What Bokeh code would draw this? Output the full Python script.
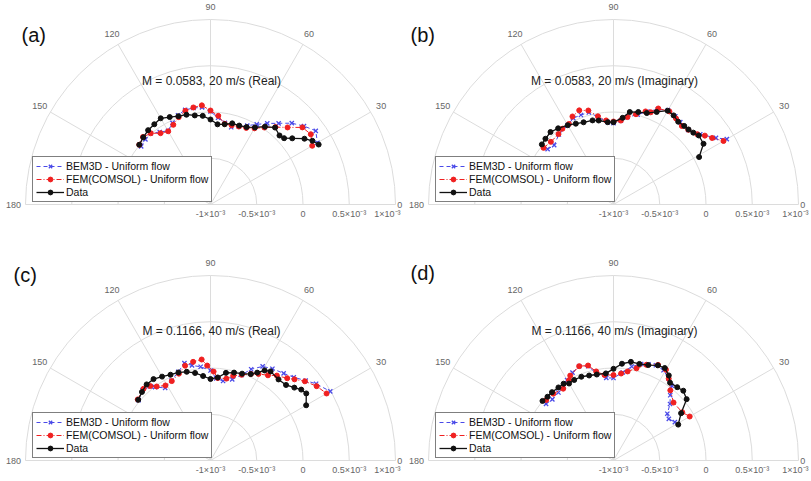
import numpy as np
from bokeh.plotting import figure
from bokeh.layouts import gridplot
from bokeh.models import Range1d, Legend, LegendItem, Label
from bokeh.core.properties import value
from bokeh.embed import file_html
from bokeh.resources import INLINE

# ---------------- axes definition ----------------
R_MIN, R_MAX = -1e-3, 1e-3
R_TICKS = [-1e-3, -0.5e-3, 0.0, 0.5e-3, 1e-3]
R_TICK_LABELS = ["-1×10⁻³", "-0.5×10⁻³", "0", "0.5×10⁻³", "1×10⁻³"]
THETA_TICKS = [0, 30, 60, 90, 120, 150, 180]

PANEL_LETTERS = ["(a)", "(b)", "(c)", "(d)"]
TITLES = ["M = 0.0583, 20 m/s (Real)", "M = 0.0583, 20 m/s (Imaginary)",
          "M = 0.1166, 40 m/s (Real)", "M = 0.1166, 40 m/s (Imaginary)"]
SERIES_NAMES = ["BEM3D - Uniform flow", "FEM(COMSOL) - Uniform flow", "Data"]

# ---------------- data (angle in degrees, value in units of 1e-3) ----------------
# (a) real, 20 m/s
a_bem_ang = [140, 135, 130, 125, 120, 115, 110, 105, 100, 95, 90, 85, 80, 75, 70, 65, 60, 55, 50, 45, 40, 35, 30]
a_bem_val = [-0.022, -0.005, 0.005, -0.043, -0.081, -0.027, 0.027, 0.059, 0.059, 0.054, 0.005, -0.059, -0.103,
             -0.135, -0.103, -0.059, 0.000, 0.070, 0.146, 0.243, 0.319, 0.389, 0.335]
a_fem_ang = [140, 135, 130, 125, 120, 115, 110, 105, 100, 95, 90, 85, 80, 75, 70, 65, 60, 55, 50, 45, 40, 35, 30]
a_fem_val = [0.005, 0.032, 0.005, -0.059, -0.086, -0.049, 0.005, 0.049, 0.065, 0.076, 0.016, -0.038, -0.114,
             -0.114, -0.103, -0.086, -0.049, 0.016, 0.092, 0.178, 0.297, 0.324, 0.270]
a_dat_ang = [140, 135, 130, 125, 120, 115, 110, 105, 100, 95, 90, 85, 80, 75, 70, 65, 60, 55, 50, 45, 42, 39, 35, 32, 29]
a_dat_val = [0.005, 0.027, 0.049, 0.059, 0.076, 0.043, 0.016, 0.005, -0.022, -0.038, -0.081, -0.130, -0.119,
             -0.092, -0.092, -0.076, -0.038, 0.027, 0.086, 0.055, 0.071, 0.137, 0.240, 0.299, 0.337]

# (b) imaginary, 20 m/s
b_bem_ang = [140, 135, 128, 120, 115, 110, 105, 100, 94, 90, 85, 81, 75, 70, 65, 60, 55, 51, 45, 39, 33, 30]
b_bem_val = [-0.070, -0.093, -0.040, -0.010, 0.030, 0.030, 0.030, -0.040, -0.108, -0.121, -0.090, -0.044,
             0.005, 0.070, 0.135, 0.178, 0.165, 0.147, 0.142, 0.207, 0.321, 0.414]
b_fem_ang = [141, 135, 128, 124, 119, 115, 110, 105, 100, 95, 90, 85, 81, 76, 71, 68, 65, 59, 54, 49, 45, 40, 37, 34, 30]
b_fem_val = [-0.027, -0.042, -0.034, -0.012, -0.005, 0.050, 0.083, 0.052, -0.032, -0.088, -0.103, -0.089,
             -0.043, 0.006, 0.064, 0.075, 0.145, 0.174, 0.150, 0.126, 0.143, 0.182, 0.237, 0.286, 0.373]
b_dat_ang = [140, 136, 131, 126, 120, 115, 110, 104, 100, 94, 90, 84, 80, 75, 70, 65, 60, 56, 52, 48, 45, 42, 39, 34, 29]
b_dat_val = [0.011, 0.023, 0.038, 0.018, -0.010, -0.036, -0.054, -0.063, -0.078, -0.108, -0.110, -0.058,
             0.015, 0.035, 0.052, 0.104, 0.171, 0.162, 0.136, 0.143, 0.147, 0.161, 0.186, 0.174, 0.058]

# (c) real, 40 m/s
c_bem_ang = [140, 134, 129, 127, 122, 116, 110, 105, 101, 96, 90, 86, 81, 75, 70, 66, 61, 56, 50, 45, 40, 36, 30]
c_bem_val = [0.015, 0.059, 0.031, -0.006, -0.075, -0.040, 0.019, 0.089, 0.047, 0.019, -0.027, -0.110, -0.130,
             -0.093, -0.014, 0.080, 0.163, 0.197, 0.230, 0.273, 0.343, 0.411, 0.495]
c_fem_ang = [140, 133, 129, 126, 121, 116, 110, 105, 100, 95, 92, 88, 85, 79, 75, 70, 65, 61, 56, 52, 47, 44, 40, 35, 30]
c_fem_val = [0.027, 0.061, 0.036, -0.011, -0.054, -0.045, -0.001, 0.061, 0.083, 0.096, 0.027, -0.038, -0.105,
             -0.098, -0.052, -0.014, 0.033, 0.070, 0.111, 0.165, 0.216, 0.263, 0.332, 0.401, 0.449]
c_dat_ang = [140, 135, 130, 125, 120, 115, 110, 105, 100, 95, 90, 85, 80, 75, 70, 65, 62, 59, 56, 50, 45, 41, 38, 35, 30]
c_dat_val = [0.020, 0.048, 0.074, 0.074, 0.047, 0.023, 0.013, -0.007, -0.039, -0.083, -0.119, -0.099, -0.038,
             -0.016, -0.001, 0.031, 0.076, 0.136, 0.162, 0.144, 0.155, 0.201, 0.245, 0.264, 0.194]

# (d) imaginary, 40 m/s
d_bem_ang = [140, 135, 129, 124, 120, 115, 110, 105, 101, 95, 90, 84, 79, 74, 70, 66, 61, 56, 52, 49, 45, 41, 37, 32]
d_bem_val = [-0.048, -0.065, -0.054, -0.035, 0.003, 0.049, 0.084, 0.055, -0.042, -0.104, -0.108, -0.043,
             0.035, 0.085, 0.105, 0.127, 0.115, 0.067, 0.025, -0.065, -0.136, -0.229, -0.251, -0.218]
d_fem_ang = [138, 132, 125, 119, 117, 110, 105, 101, 96, 90, 85, 81, 76, 71, 65, 60, 56, 51, 44, 35, 30]
d_fem_val = [-0.021, -0.028, -0.052, -0.008, 0.030, 0.085, 0.063, -0.019, -0.070, -0.076, -0.056, -0.025,
             0.027, 0.094, 0.140, 0.134, 0.067, -0.024, -0.098, -0.092, -0.049]
d_dat_ang = [140, 136, 132, 127, 123, 120, 116, 111, 106, 101, 95, 90, 85, 80, 75, 70, 65, 61, 57, 54, 49, 45, 40, 35, 29]
d_dat_val = [0.002, -0.008, -0.006, -0.011, -0.010, -0.039, -0.031, -0.030, -0.044, -0.053, -0.055, -0.009,
             0.050, 0.083, 0.081, 0.098, 0.135, 0.143, 0.097, 0.040, 0.050, 0.067, 0.032, -0.108, -0.200]

PANEL_DATA = [
    [(a_bem_ang, a_bem_val), (a_fem_ang, a_fem_val), (a_dat_ang, a_dat_val)],
    [(b_bem_ang, b_bem_val), (b_fem_ang, b_fem_val), (b_dat_ang, b_dat_val)],
    [(c_bem_ang, c_bem_val), (c_fem_ang, c_fem_val), (c_dat_ang, c_dat_val)],
    [(d_bem_ang, d_bem_val), (d_fem_ang, d_fem_val), (d_dat_ang, d_dat_val)],
]
VALUE_UNIT = 1e-3

# ---------------- layout / style ----------------
PX = 185.0  # pixels per unit of normalised radius
# width, height, centre x/y (px from top-left), letter x/y, title y, right padding for last radial label
LAYOUT = [
    dict(W=405, H=240, cx=210, cy=204, lx=21, ly=34, ty=80, rpad=5),
    dict(W=406, H=240, cx=208, cy=204, lx=5, ly=34, ty=80, rpad=3),
    dict(W=405, H=241, cx=210, cy=220, lx=13, ly=34, ty=90, rpad=5),
    dict(W=406, H=241, cx=208, cy=220, lx=5, ly=32, ty=90, rpad=3),
]
FONT = "Liberation Sans"
GRID_COLOR = "#dcdcdc"
LABEL_COLOR = "#666666"
STYLES = [
    dict(color="#4a4ae8", dash="4 3", marker="x", size=6, lw=1.0),
    dict(color="#f02020", dash="5 2 1 2", marker="circle", size=5, lw=1.0),
    dict(color="#111111", dash="solid", marker="circle", size=5, lw=1.3),
]


def rho(v):
    return (np.asarray(v, dtype=float) - R_MIN) / (R_MAX - R_MIN)


def txt(p, x, y, s, align="center", size="9px", color=LABEL_COLOR):
    p.text(x=[x], y=[y], text=[s], text_align=align, text_baseline="middle",
           text_font=value(FONT), text_font_size=size, text_color=color)


def make_panel(i):
    L = LAYOUT[i]
    W, H, cx, cy = L["W"], L["H"], L["cx"], L["cy"]
    p = figure(width=W, height=H,
               x_range=Range1d(-cx / PX, (W - cx) / PX),
               y_range=Range1d(-(H - cy) / PX, cy / PX),
               x_axis_type=None, y_axis_type=None, toolbar_location=None,
               output_backend="svg", min_border=0, outline_line_color=None)
    p.background_fill_color = "white"
    p.border_fill_color = "white"

    # grid circles
    rr = [rho(t) for t in R_TICKS if rho(t) > 0]
    p.arc(x=[0] * len(rr), y=[0] * len(rr), radius=rr, start_angle=0, end_angle=np.pi,
          line_color=GRID_COLOR, line_width=1)
    # spokes
    th = np.deg2rad(THETA_TICKS)
    p.segment(x0=0, y0=0, x1=np.cos(th), y1=np.sin(th), line_color=GRID_COLOR, line_width=1)

    # angle labels
    lab_r = 1.065
    for t in THETA_TICKS:
        if t == 0:
            txt(p, 1.01, -0.004, str(t), align="left")
        else:
            a = np.deg2rad(t)
            txt(p, lab_r * np.cos(a), lab_r * np.sin(a), str(t))
    # radial tick labels (last one kept inside the panel edge)
    ty = -9 / PX
    for t, s in zip(R_TICKS[:-1], R_TICK_LABELS[:-1]):
        txt(p, float(rho(t)), ty, s)
    txt(p, (W - cx - L["rpad"]) / PX, ty, R_TICK_LABELS[-1], align="right")

    # series
    items = []
    for k, (ang, val) in enumerate(PANEL_DATA[i]):
        st = STYLES[k]
        a = np.deg2rad(ang)
        r = rho(np.asarray(val) * VALUE_UNIT)
        x = r * np.cos(a)
        y = r * np.sin(a)
        ln = p.line(x, y, line_color=st["color"], line_dash=st["dash"], line_width=st["lw"])
        if st["marker"] == "x":
            sc = p.scatter(x, y, marker="x", size=st["size"], line_color=st["color"], line_width=1.3)
        else:
            sc = p.scatter(x, y, marker="circle", size=st["size"], line_color=st["color"],
                           fill_color=st["color"])
        items.append(LegendItem(label=SERIES_NAMES[k], renderers=[ln, sc]))

    leg = Legend(items=items, location=(cx - 178, (H - cy) + 2), orientation="vertical",
                 label_text_font=FONT, label_text_font_size="10.5px", label_text_color="#111111",
                 label_height=12, glyph_height=12, glyph_width=28, label_standoff=2,
                 spacing=1, padding=3, margin=0, border_line_color="black", border_line_width=1,
                 background_fill_alpha=1.0)
    p.add_layout(leg, "center")

    # title and panel letter
    p.add_layout(Label(x=cx + 1, y=H - L["ty"], x_units="screen", y_units="screen",
                       text=TITLES[i], text_align="center", text_baseline="middle",
                       text_font=FONT, text_font_size="12px", text_color="#222222"))
    p.add_layout(Label(x=L["lx"], y=H - L["ly"], x_units="screen", y_units="screen",
                       text=PANEL_LETTERS[i], text_align="left", text_baseline="middle",
                       text_font=FONT, text_font_size="20px", text_color="#111111"))
    return p


panels = [make_panel(i) for i in range(4)]
grid = gridplot([[panels[0], panels[1]], [panels[2], panels[3]]], toolbar_location=None)

open("out.html", "w").write(file_html(grid, INLINE))
